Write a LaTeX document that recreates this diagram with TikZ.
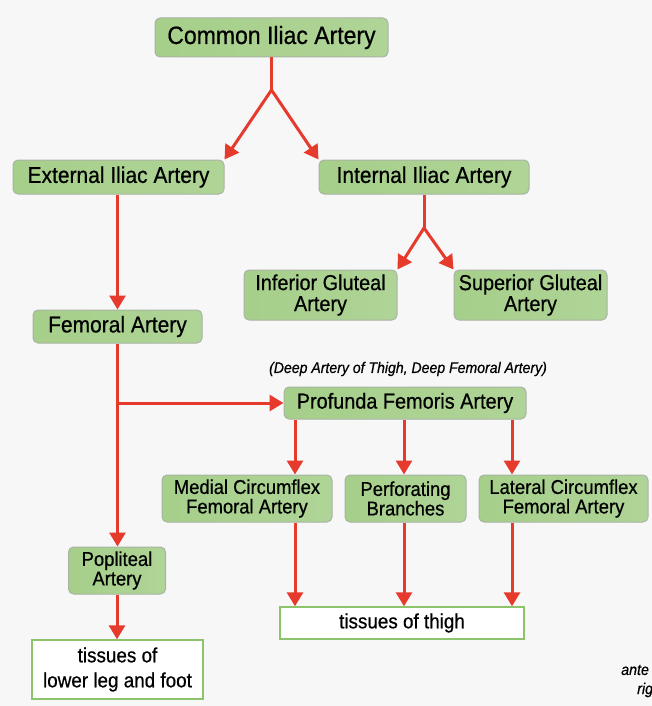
\documentclass[tikz,border=0pt]{standalone}
\usepackage{fontspec}
\setmainfont[FakeStretch=0.92,FakeBold=0.6]{Liberation Sans}
\usetikzlibrary{arrows.meta}
\definecolor{bg}{HTML}{F7F7F8}
\definecolor{gl}{HTML}{A6CF8A}
\definecolor{gm}{HTML}{C8E2B6}
\definecolor{gr}{HTML}{AFD497}
\definecolor{boxline}{HTML}{A9B3A4}
\definecolor{tline}{HTML}{8CC46C}
\definecolor{ar}{HTML}{E53A2C}
\begin{document}
\begin{tikzpicture}[x=1pt,y=-1pt,
  gbox/.style={draw=boxline, line width=1pt, rounded corners=5pt,
    left color=gl, middle color=gm, right color=gr, inner sep=0pt,
    align=center, text=black},
  tbox/.style={draw=tline, line width=1.4pt, fill=white, inner sep=0pt,
    align=center, text=black},
  arr/.style={draw=ar, line width=3pt, -{Triangle[width=16pt,length=14pt]}},
  lin/.style={draw=ar, line width=3pt},
  fa/.style={font=\fontsize{25}{27}\selectfont},
  fb/.style={font=\fontsize{22.8}{24}\selectfont},
  fc/.style={font=\fontsize{21.6}{21}\selectfont},
  fd/.style={font=\fontsize{20}{19.5}\selectfont},
  fe/.style={font=\fontsize{20.5}{25}\selectfont}]
\fill[bg] (0,0) rectangle (652,706);
\useasboundingbox (0,0) rectangle (652,706);
\clip (0,0) rectangle (652,706);

% nodes
\node[gbox, fa, minimum width=233pt, minimum height=39pt] (cia) at (271.5,37.5) {Common Iliac Artery};
\node[gbox, fb, minimum width=211pt, minimum height=34pt] (eia) at (118.5,177) {External Iliac Artery};
\node[gbox, fb, minimum width=210pt, minimum height=34pt] (iia) at (424,177) {Internal Iliac Artery};
\node[gbox, fc, minimum width=153pt, minimum height=50pt] (iga) at (320.5,295) {Inferior Gluteal\\Artery};
\node[gbox, fc, minimum width=153pt, minimum height=50pt] (sga) at (530.5,295) {Superior Gluteal\\Artery};
\node[gbox, fb, minimum width=169pt, minimum height=33pt] (fem) at (117.5,326.5) {Femoral Artery};
\node[font=\fontsize{15.3}{17}\selectfont\itshape] (deep) at (408,369) {(Deep Artery of Thigh, Deep Femoral Artery)};
\node[gbox, fc, minimum width=242pt, minimum height=32pt] (pfa) at (405,403) {Profunda Femoris Artery};
\node[gbox, fd, minimum width=170pt, minimum height=47pt] (mcfa) at (247,498.5) {Medial Circumflex\\Femoral Artery};
\node[gbox, fd, minimum width=121pt, minimum height=47pt] (pb) at (405.5,498.5) {Perforating\\Branches};
\node[gbox, fd, minimum width=169pt, minimum height=47pt] (lcfa) at (563.5,498.5) {Lateral Circumflex\\Femoral Artery};
\node[gbox, fd, minimum width=97pt, minimum height=47pt] (pop) at (117,570.5) {Popliteal\\Artery};
\node[tbox, fe, minimum width=244pt, minimum height=32pt] (tt) at (402,623) {tissues of thigh};
\node[tbox, fe, minimum width=171pt, minimum height=59pt] (tl) at (117.5,669.5) {tissues of\\lower leg and foot};
\node[font=\fontsize{15.5}{17}\selectfont\itshape, anchor=west, inner sep=0pt] (ante) at (621,670) {ante};
\node[font=\fontsize{15.5}{17}\selectfont\itshape, anchor=west, inner sep=0pt] (rig) at (637,690) {rig};

% junctions
\coordinate (j1) at (271.5,90);
\coordinate (j2) at (424,228);
\coordinate (j3) at (118,403);
\coordinate (c1) at (295,0);
\coordinate (c2) at (404,0);
\coordinate (c3) at (512,0);

% connectors
\draw[lin] (cia.south) -- (j1);
\draw[arr] (j1) -- (eia.north east);
\draw[arr] (j1) -- (iia.north west);
\draw[lin] (iia.south) -- (j2);
\draw[arr] (j2) -- (iga.north east);
\draw[arr] (j2) -- (sga.north west);
\draw[arr] (eia.south -| fem.north) -- (fem.north);
\draw[arr] (fem.south) -- (pop.north -| fem.south);
\draw[arr] (j3) -- (pfa.west);
\draw[arr] (pfa.south -| c1) -- (mcfa.north -| c1);
\draw[arr] (pfa.south -| c2) -- (pb.north -| c2);
\draw[arr] (pfa.south -| c3) -- (lcfa.north -| c3);
\draw[arr] (mcfa.south -| c1) -- (tt.north -| c1);
\draw[arr] (pb.south -| c2) -- (tt.north -| c2);
\draw[arr] (lcfa.south -| c3) -- (tt.north -| c3);
\draw[arr] (pop.south) -- (tl.north -| pop.south);
\end{tikzpicture}
\end{document}
